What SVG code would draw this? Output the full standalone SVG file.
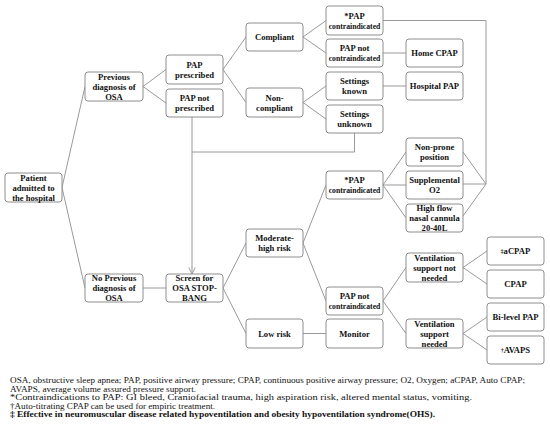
<svg xmlns="http://www.w3.org/2000/svg" width="550" height="426" viewBox="0 0 550 426">
<style>
.box{fill:#ffffff;stroke:#8e8e8e;stroke-width:1}
.t{font-family:"Liberation Serif","Times New Roman",serif;font-weight:bold;font-size:8.6px;fill:#111111;text-anchor:middle}
.s{font-size:7.7px}
.c{fill:none;stroke:#9a9a9a;stroke-width:1}
.cap{font-family:"Liberation Serif","Times New Roman",serif;font-size:8.4px;fill:#111111}
.b{font-weight:bold}
</style>
<defs>
<marker id="arr" viewBox="0 0 10 10" refX="9" refY="5" markerWidth="8" markerHeight="8" orient="auto" markerUnits="userSpaceOnUse">
<path d="M1,1 L9,5 L1,9" fill="none" stroke="#9a9a9a" stroke-width="1.2"/>
</marker>
</defs>
<rect width="550" height="426" fill="#ffffff"/>
<g id="connectors">
<line class="c" x1="62" y1="187.5" x2="85" y2="86.5"/>
<line class="c" x1="62" y1="187.5" x2="85" y2="288"/>
<line class="c" x1="143" y1="86.5" x2="166" y2="69.5"/>
<line class="c" x1="143" y1="86.5" x2="166" y2="103"/>
<line class="c" x1="223" y1="69.5" x2="246" y2="37"/>
<line class="c" x1="223" y1="69.5" x2="246" y2="102.5"/>
<line class="c" x1="303" y1="37" x2="326" y2="20.5"/>
<line class="c" x1="303" y1="37" x2="326" y2="53"/>
<line class="c" x1="303" y1="102.5" x2="326" y2="86"/>
<line class="c" x1="303" y1="102.5" x2="326" y2="119"/>
<line class="c" x1="383" y1="53" x2="406" y2="53"/>
<line class="c" x1="383" y1="86" x2="406" y2="86"/>
<polyline class="c" points="383,20.5 486,20.5 486,184"/>
<polyline class="c" points="354.5,133 354.5,152 192,152"/>
<line class="c" x1="192" y1="117" x2="192" y2="274" marker-end="url(#arr)"/>
<line class="c" x1="143" y1="288" x2="166" y2="288"/>
<line class="c" x1="223" y1="288" x2="246" y2="243"/>
<line class="c" x1="223" y1="288" x2="246" y2="333.5"/>
<line class="c" x1="303" y1="243" x2="326" y2="185"/>
<line class="c" x1="303" y1="243" x2="326" y2="301"/>
<line class="c" x1="383" y1="185" x2="406" y2="152"/>
<line class="c" x1="383" y1="185" x2="406" y2="185"/>
<line class="c" x1="383" y1="185" x2="406" y2="218"/>
<line class="c" x1="463" y1="152" x2="486" y2="184"/>
<line class="c" x1="463" y1="184" x2="486" y2="184"/>
<line class="c" x1="463" y1="216" x2="486" y2="184"/>
<line class="c" x1="383" y1="301" x2="406" y2="267.5"/>
<line class="c" x1="383" y1="301" x2="406" y2="333.5"/>
<line class="c" x1="303" y1="333.5" x2="326" y2="333.5"/>
<line class="c" x1="463" y1="267.5" x2="487" y2="251"/>
<line class="c" x1="463" y1="267.5" x2="487" y2="284"/>
<line class="c" x1="463" y1="333.5" x2="487" y2="317"/>
<line class="c" x1="463" y1="333.5" x2="487" y2="350"/>
</g>
<g id="patient"><rect class="box" x="5" y="173" width="57" height="29" rx="3"/><text class="t" x="33.5" y="180.5">Patient</text><text class="t" x="33.5" y="190.5">admitted to</text><text class="t" x="33.5" y="200.5">the hospital</text></g>
<g id="prev"><rect class="box" x="85" y="72" width="58" height="29" rx="3"/><text class="t" x="114" y="79.5">Previous</text><text class="t" x="114" y="89.5">diagnosis of</text><text class="t" x="114" y="99.5">OSA</text></g>
<g id="noprev"><rect class="box" x="85" y="274" width="58" height="28" rx="3"/><text class="t" x="114" y="281">No Previous</text><text class="t" x="114" y="291">diagnosis of</text><text class="t" x="114" y="301">OSA</text></g>
<g id="papp"><rect class="box" x="166" y="55" width="57" height="29" rx="3"/><text class="t" x="194.5" y="67.5">PAP</text><text class="t" x="194.5" y="77.5">prescribed</text></g>
<g id="papnp"><rect class="box" x="166" y="89" width="57" height="28" rx="3"/><text class="t" x="194.5" y="101">PAP not</text><text class="t" x="194.5" y="111">prescribed</text></g>
<g id="screen"><rect class="box" x="166" y="274" width="57" height="28" rx="3"/><text class="t" x="194.5" y="281">Screen for</text><text class="t" x="194.5" y="291">OSA STOP-</text><text class="t" x="194.5" y="301">BANG</text></g>
<g id="compliant"><rect class="box" x="246" y="23" width="57" height="28" rx="3"/><text class="t" x="274.5" y="40">Compliant</text></g>
<g id="noncomp"><rect class="box" x="246" y="88" width="57" height="29" rx="3"/><text class="t" x="274.5" y="100.5">Non-</text><text class="t" x="274.5" y="110.5">compliant</text></g>
<g id="modhigh"><rect class="box" x="246" y="229" width="57" height="28" rx="3"/><text class="t" x="274.5" y="241">Moderate-</text><text class="t" x="274.5" y="251">high risk</text></g>
<g id="low"><rect class="box" x="246" y="319" width="57" height="29" rx="3"/><text class="t" x="274.5" y="336.5">Low risk</text></g>
<g id="papc1"><rect class="box" x="326" y="6" width="57" height="29" rx="3"/><text class="t" x="354.5" y="18.5">*PAP</text><text class="t s" x="354.5" y="28.5">contraindicated</text></g>
<g id="papnc1"><rect class="box" x="326" y="39" width="57" height="28" rx="3"/><text class="t" x="354.5" y="51">PAP not</text><text class="t s" x="354.5" y="61">contraindicated</text></g>
<g id="setk"><rect class="box" x="326" y="72" width="57" height="28" rx="3"/><text class="t" x="354.5" y="84">Settings</text><text class="t" x="354.5" y="94">known</text></g>
<g id="setu"><rect class="box" x="326" y="105" width="57" height="28" rx="3"/><text class="t" x="354.5" y="117">Settings</text><text class="t" x="354.5" y="127">unknown</text></g>
<g id="papc2"><rect class="box" x="326" y="171" width="57" height="28" rx="3"/><text class="t" x="354.5" y="183">*PAP</text><text class="t s" x="354.5" y="193">contraindicated</text></g>
<g id="papnc2"><rect class="box" x="326" y="287" width="57" height="28" rx="3"/><text class="t" x="354.5" y="299">PAP not</text><text class="t s" x="354.5" y="309">contraindicated</text></g>
<g id="monitor"><rect class="box" x="326" y="319" width="57" height="29" rx="3"/><text class="t" x="354.5" y="336.5">Monitor</text></g>
<g id="homecpap"><rect class="box" x="406" y="39" width="57" height="28" rx="3"/><text class="t" x="434.5" y="56">Home CPAP</text></g>
<g id="hosppap"><rect class="box" x="406" y="72" width="57" height="28" rx="3"/><text class="t" x="434.5" y="89">Hospital PAP</text></g>
<g id="nonprone"><rect class="box" x="406" y="138" width="57" height="28" rx="3"/><text class="t" x="434.5" y="150">Non-prone</text><text class="t" x="434.5" y="160">position</text></g>
<g id="suppo2"><rect class="box" x="406" y="171" width="57" height="28" rx="3"/><text class="t" x="434.5" y="183">Supplemental</text><text class="t" x="434.5" y="193">O2</text></g>
<g id="highflow"><rect class="box" x="406" y="204" width="57" height="28" rx="3"/><text class="t" x="434.5" y="211">High flow</text><text class="t" x="434.5" y="221">nasal cannula</text><text class="t" x="434.5" y="231">20-40L</text></g>
<g id="ventnot"><rect class="box" x="406" y="253" width="57" height="29" rx="3"/><text class="t" x="434.5" y="260.5">Ventilation</text><text class="t" x="434.5" y="270.5">support not</text><text class="t" x="434.5" y="280.5">needed</text></g>
<g id="ventneed"><rect class="box" x="406" y="319" width="57" height="29" rx="3"/><text class="t" x="434.5" y="326.5">Ventilation</text><text class="t" x="434.5" y="336.5">support</text><text class="t" x="434.5" y="346.5">needed</text></g>
<g id="acpap"><rect class="box" x="487" y="237" width="57" height="28" rx="3"/><text class="t" x="515.5" y="254"><tspan font-size="5.5px" dy="-1.5">‡</tspan><tspan dy="1.5">aCPAP</tspan></text></g>
<g id="cpap"><rect class="box" x="487" y="270" width="57" height="28" rx="3"/><text class="t" x="515.5" y="287">CPAP</text></g>
<g id="bilevel"><rect class="box" x="487" y="303" width="57" height="28" rx="3"/><text class="t" x="515.5" y="320">Bi-level PAP</text></g>
<g id="avaps"><rect class="box" x="487" y="336" width="57" height="28" rx="3"/><text class="t" x="515.5" y="353"><tspan font-size="5.5px" dy="-1.5">†</tspan><tspan dy="1.5">AVAPS</tspan></text></g>
<g id="caption">
<text class="cap" x="10" y="383" textLength="515" lengthAdjust="spacingAndGlyphs">OSA, obstructive sleep apnea; PAP, positive airway pressure; CPAP, continuous positive airway pressure; O2, Oxygen; aCPAP, Auto CPAP;</text>
<text class="cap" x="10" y="391.5" textLength="186" lengthAdjust="spacingAndGlyphs">AVAPS, average volume assured pressure support.</text>
<text class="cap" x="10" y="400" textLength="462" lengthAdjust="spacingAndGlyphs">*Contraindications to PAP: GI bleed, Craniofacial trauma, high aspiration risk, altered mental status, vomiting.</text>
<text class="cap" x="10" y="408.5" textLength="205" lengthAdjust="spacingAndGlyphs">†Auto-titrating CPAP can be used for empiric treatment.</text>
<text class="cap b" x="10" y="417" textLength="425" lengthAdjust="spacingAndGlyphs">‡ Effective in neuromuscular disease related hypoventilation and obesity hypoventilation syndrome(OHS).</text>
</g>
</svg>
